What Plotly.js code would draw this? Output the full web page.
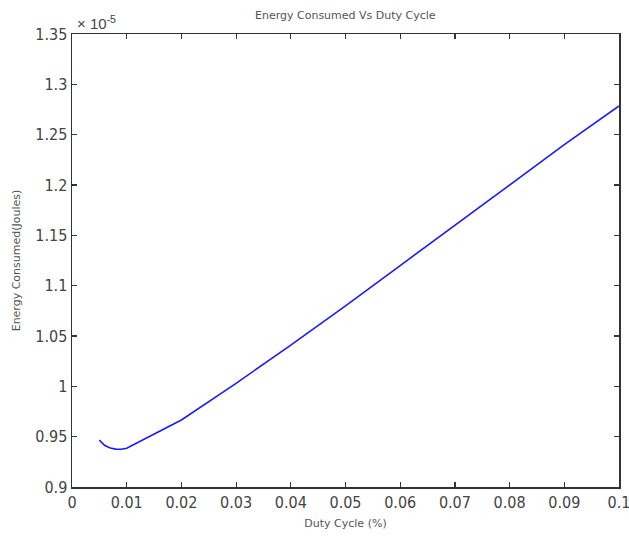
<!DOCTYPE html>
<html>
<head>
<meta charset="utf-8">
<script src="https://cdn.plot.ly/plotly-3.0.1.min.js"></script>
<style>html,body{margin:0;padding:0;background:#fff;}#chart{width:629px;height:540px;}</style>
</head>
<body>
<div id="chart"></div>
<script>
// Duty cycle (fraction) and energy consumed (in units of 1e-5 Joules)
const dutyCycle = [0.005, 0.006, 0.007, 0.008, 0.009, 0.01, 0.02, 0.03, 0.04, 0.05, 0.06, 0.07, 0.08, 0.09, 0.1];
const energyE5  = [0.9465, 0.9412, 0.9388, 0.9376, 0.9375, 0.9385, 0.9666, 1.003, 1.041, 1.080, 1.120, 1.160, 1.200, 1.240, 1.2785];
const xTickVals = [0, 0.01, 0.02, 0.03, 0.04, 0.05, 0.06, 0.07, 0.08, 0.09, 0.1];
const xTickText = ['0', '0.01', '0.02', '0.03', '0.04', '0.05', '0.06', '0.07', '0.08', '0.09', '0.1'];
const yTickVals = [0.9, 0.95, 1.0, 1.05, 1.1, 1.15, 1.2, 1.25, 1.3, 1.35];
const yTickText = ['0.9', '0.95', '1', '1.05', '1.1', '1.15', '1.2', '1.25', '1.3', '1.35'];

const tickFont = {family: '"Liberation Sans Narrow", "DejaVu Sans Condensed", "Liberation Sans", sans-serif', size: 16, color: '#444'};
const labelFont = {family: '"DejaVu Sans", "Liberation Sans", sans-serif', size: 11, color: '#555'};

const trace = {
  x: dutyCycle,
  y: energyE5,
  type: 'scatter',
  mode: 'lines',
  line: {color: '#1a1aff', width: 1.6},
  hoverinfo: 'skip'
};

const axisCommon = {
  showline: true, linecolor: '#333', linewidth: 1.5, mirror: 'allticks',
  ticks: 'inside', ticklen: 5, tickwidth: 1.2, tickcolor: '#333',
  showgrid: false, zeroline: false, tickfont: tickFont, tickmode: 'array',
  ticklabeloverflow: 'allow'
};

const layout = {
  width: 629, height: 540,
  margin: {l: 72, r: 10, t: 34, b: 53},
  paper_bgcolor: '#fff', plot_bgcolor: '#fff',
  showlegend: false,
  title: {text: 'Energy Consumed Vs Duty Cycle', font: labelFont, x: 0.549, xanchor: 'center', y: 0.972, yanchor: 'middle'},
  xaxis: Object.assign({}, axisCommon, {
    range: [0, 0.1], tickvals: xTickVals, ticktext: xTickText,
    title: {text: 'Duty Cycle (%)', font: labelFont, standoff: 8}
  }),
  yaxis: Object.assign({}, axisCommon, {
    range: [0.9, 1.35], tickvals: yTickVals, ticktext: yTickText,
    title: {text: 'Energy Consumed(Joules)', font: labelFont, standoff: 12}
  }),
  annotations: [{
    xref: 'paper', yref: 'paper', x: 0.005, y: 1.0, xanchor: 'left', yanchor: 'bottom',
    text: '× 10<sup>-5</sup>', showarrow: false,
    font: {family: '"Liberation Sans Narrow", "Liberation Sans", sans-serif', size: 15, color: '#444'}
  }]
};

Plotly.newPlot('chart', [trace], layout, {displayModeBar: false, staticPlot: true});
</script>
</body>
</html>
